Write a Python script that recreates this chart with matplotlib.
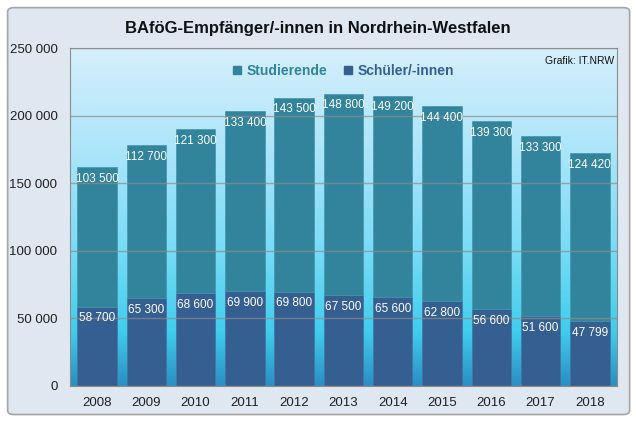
import numpy as np
import matplotlib
matplotlib.use('Agg')
import matplotlib.pyplot as plt
from matplotlib.colors import LinearSegmentedColormap
from matplotlib.patches import FancyBboxPatch, Patch

years = ['2008', '2009', '2010', '2011', '2012', '2013', '2014', '2015', '2016', '2017', '2018']
schueler = [58700, 65300, 68600, 69900, 69800, 67500, 65600, 62800, 56600, 51600, 47799]
studierende = [103500, 112700, 121300, 133400, 143500, 148800, 149200, 144400, 139300, 133300, 124420]

c_stud = '#31849b'
c_sch = '#365f91'

def fmt(v):
    return '{:,}'.format(v).replace(',', ' ')

plt.rcParams['font.family'] = ['Liberation Sans', 'DejaVu Sans']

fig = plt.figure(figsize=(6.36, 4.23), dpi=100, facecolor='white')
frame = FancyBboxPatch((0.012, 0.02), 0.978, 0.962, boxstyle='round,pad=0,rounding_size=0.01',
                       transform=fig.transFigure, facecolor='#dfe7f1', edgecolor='#a6a6a6', lw=1.2,
                       zorder=-5)
fig.patches.append(frame)

ax = fig.add_axes([0.110, 0.0875, 0.860, 0.799])
ax.set_zorder(1)

# background gradient
cmap = LinearSegmentedColormap.from_list('bg', [(0, '#d6effb'), (0.3, '#ace5fa'), (0.6, '#78dbf6'),
                                                (0.84, '#40cdec'), (1.0, '#2a8ec4')])
grad = np.linspace(0, 1, 256).reshape(-1, 1)
ax.imshow(grad, aspect='auto', cmap=cmap, extent=[0, 1, 0, 1], transform=ax.transAxes, zorder=0)

x = np.arange(len(years))
ax.bar(x, schueler, width=0.8, color=c_sch, edgecolor='#4672a2', lw=0.5, zorder=2)
ax.bar(x, studierende, width=0.8, bottom=schueler, color=c_stud, edgecolor='#4595ab', lw=0.5, zorder=2)

for i in range(len(years)):
    ax.annotate(fmt(schueler[i]), (x[i], schueler[i]), xytext=(0, -8.5), textcoords='offset points',
                ha='center', va='center', color='white', fontsize=8.5, zorder=4)
    ax.annotate(fmt(studierende[i]), (x[i], schueler[i] + studierende[i]), xytext=(0, -8.5),
                textcoords='offset points', ha='center', va='center', color='white', fontsize=8.5,
                zorder=4)

ax.set_xlim(-0.55, len(years) - 0.45)
ax.set_ylim(0, 250000)
ax.set_yticks(range(0, 250001, 50000))
ax.set_yticklabels([fmt(v) for v in range(0, 250001, 50000)], fontsize=9.5, color='#202020')
ax.set_xticks(x)
ax.set_xticklabels(years, fontsize=9.5, color='#202020')
ax.tick_params(axis='y', length=0, pad=9)
ax.tick_params(axis='x', length=0, pad=8)
ax.yaxis.grid(True, color='#8c8c8c', lw=1, alpha=0.7, zorder=3)
ax.set_axisbelow(False)
for s in ax.spines.values():
    s.set_color('#8c8c8c')
    s.set_zorder(5)

fig.text(0.5, 0.932, 'BAföG-Empfänger/-innen in Nordrhein-Westfalen', ha='center', va='center',
         fontsize=12, fontweight='bold', color='#111111')
ax.text(0.995, 0.975, 'Grafik: IT.NRW', transform=ax.transAxes, ha='right', va='top', fontsize=7.5,
        color='#111111', zorder=6)

handles = [Patch(color=c_stud), Patch(color=c_sch)]
leg = ax.legend(handles, ['Studierende', 'Schüler/-innen'], loc='upper center', bbox_to_anchor=(0.5, 0.99),
                ncol=2, frameon=False, handlelength=0.6, handleheight=0.6,
                handletextpad=0.4, columnspacing=1.2,
                prop={'weight': 'bold', 'size': 10})
for t, c in zip(leg.get_texts(), [c_stud, c_sch]):
    t.set_color(c)

fig.savefig('out.png', dpi=100, facecolor='white')
